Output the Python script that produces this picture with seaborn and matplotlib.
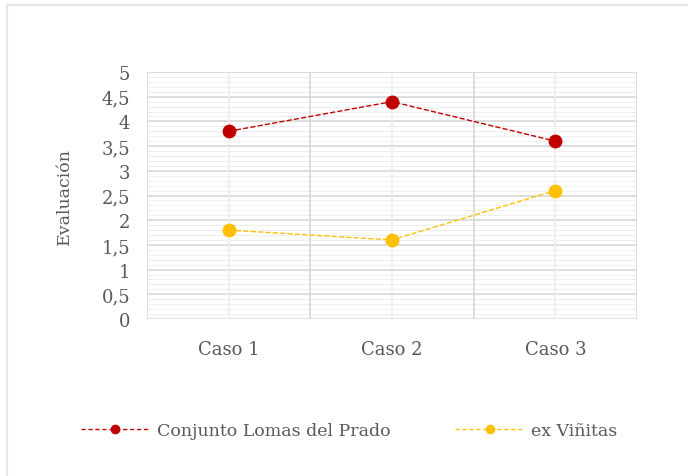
import numpy as np
import pandas as pd
import matplotlib.pyplot as plt
import seaborn as sns
from matplotlib.lines import Line2D

casos = ["Caso 1", "Caso 2", "Caso 3"]
lomas = [3.8, 4.4, 3.6]
vinitas = [1.8, 1.6, 2.6]
series_names = ["Conjunto Lomas del Prado", "ex Viñitas"]
y_ticks = [0, 0.5, 1, 1.5, 2, 2.5, 3, 3.5, 4, 4.5, 5]
y_labels = ["0", "0,5", "1", "1,5", "2", "2,5", "3", "3,5", "4", "4,5", "5"]

RED = "#C00000"
YELLOW = "#FFC000"
TEXT = "#595959"

df = pd.DataFrame({
    "caso": list(range(len(casos))) * 2,
    "valor": lomas + vinitas,
    "serie": [series_names[0]] * 3 + [series_names[1]] * 3,
})

sns.set_style("white")
plt.rcParams["font.family"] = ["DejaVu Serif"]

fig = plt.figure(figsize=(6.88, 4.77), dpi=100)
ax = fig.add_axes([147 / 688, 1 - 320 / 477, 490 / 688, 247 / 477])

# grid first, behind the data
for y in np.arange(0, 5.01, 0.1):
    ax.axhline(y, color="#EFEFEF", lw=0.8, zorder=0)
for y in y_ticks:
    ax.axhline(y, color="#D9D9D9", lw=1.2, zorder=0.5)
for x in range(len(casos)):
    ax.axvline(x, color="#EDEDED", lw=1.2, zorder=0.5)
for x in [-0.5, 0.5, 1.5, 2.5]:
    ax.axvline(x, color="#D9D9D9", lw=1.2, zorder=0.6)

palette = {series_names[0]: RED, series_names[1]: YELLOW}
sns.lineplot(data=df, x="caso", y="valor", hue="serie", palette=palette,
             marker="o", markersize=10, markeredgewidth=0, lw=1.0,
             linestyle="--", dashes=(3, 2), legend=False, ax=ax, zorder=3)

ax.set_xlim(-0.5, 2.5)
ax.set_ylim(0, 5)
ax.set_yticks(y_ticks)
ax.set_yticklabels(y_labels)
ax.set_xticks(range(len(casos)))
ax.set_xticklabels(casos)
ax.set_xticks([-0.5, 0.5, 1.5, 2.5], minor=True)
ax.tick_params(axis="x", which="major", length=0, pad=15, labelsize=13, colors=TEXT)
ax.tick_params(axis="x", which="minor", length=6, width=1.2, color="#D9D9D9", direction="out")
ax.tick_params(axis="y", length=0, pad=12, labelsize=13, colors=TEXT)
ax.set_xlabel("")
ax.set_ylabel("Evaluación", fontsize=12.5, color=TEXT, labelpad=21)
for s in ax.spines.values():
    s.set_visible(False)

handles = [
    Line2D([0], [0], color=RED, lw=1.0, ls=(0, (3, 2)), marker="o", markersize=7, markeredgewidth=0),
    Line2D([0], [0], color=YELLOW, lw=1.0, ls=(0, (3, 2)), marker="o", markersize=7, markeredgewidth=0),
]
fig.legend(handles, series_names, loc="center", bbox_to_anchor=(349 / 688, 1 - 432 / 477),
           ncol=2, frameon=False, fontsize=12.5, labelcolor=TEXT,
           handlelength=4.0, columnspacing=3.7, handletextpad=0.4)

# chart area border (top and left visible)
fig.add_artist(Line2D([7 / 688, 1], [1 - 6 / 477, 1 - 6 / 477], color="#E6E6E6", lw=1.5,
                      transform=fig.transFigure))
fig.add_artist(Line2D([7 / 688, 7 / 688], [0, 1 - 6 / 477], color="#E6E6E6", lw=1.5,
                      transform=fig.transFigure))

fig.savefig("out.png", dpi=100)
